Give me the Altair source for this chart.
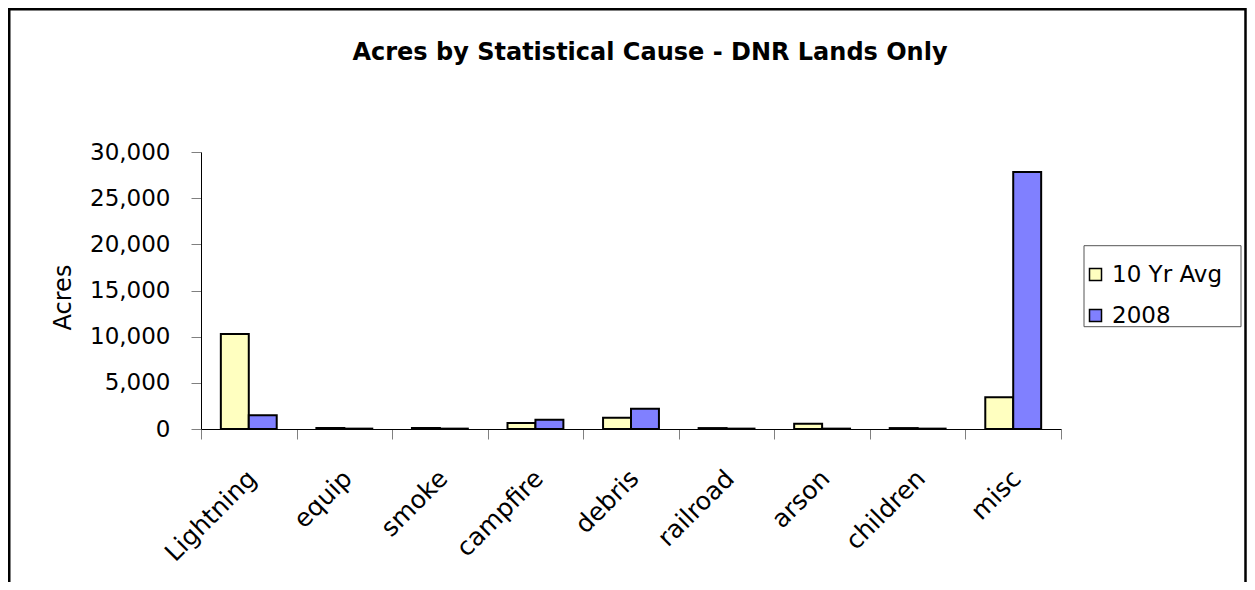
import altair as alt
import pandas as pd

categories = ["Lightning", "equip", "smoke", "campfire", "debris", "railroad", "arson", "children", "misc"]
avg_10yr = [10300, 120, 110, 650, 1220, 100, 575, 100, 3430]
acres_2008 = [1500, 40, 40, 1000, 2200, 40, 40, 40, 27830]
series_names = ["10 Yr Avg", "2008"]
series_colors = ["#FFFFC0", "#8080FF"]
y_ticks = [0, 5000, 10000, 15000, 20000, 25000, 30000]
title_text = "Acres by Statistical Cause - DNR Lands Only"

FONT = "Comic Sans MS, DejaVu Sans"

rows = []
for c, a, b in zip(categories, avg_10yr, acres_2008):
    rows.append({"cause": c, "series": series_names[0], "acres": a})
    rows.append({"cause": c, "series": series_names[1], "acres": b})
df = pd.DataFrame(rows)

W, H = 860, 277

bars = alt.Chart(df).mark_bar(stroke="black", strokeWidth=2).encode(
    x=alt.X("cause:N", sort=categories, title=None,
            scale=alt.Scale(paddingInner=0, paddingOuter=0),
            axis=alt.Axis(labelAngle=-45, labelAlign="right", labelBaseline="middle",
                          labelFont=FONT, labelFontSize=25, labelColor="black",
                          labelPadding=35, labelOffset=3,
                          tickBand="extent", tickSize=10, tickColor="#808080",
                          domainColor="black", domainWidth=1)),
    xOffset=alt.XOffset("series:N", sort=series_names,
                        scale=alt.Scale(paddingInner=0, paddingOuter=0.71)),
    y=alt.Y("acres:Q", title="Acres",
            scale=alt.Scale(domain=[0, 30000], nice=False),
            axis=alt.Axis(values=y_ticks, format=",.0f", grid=False,
                          labelFont=FONT, labelFontSize=23, labelColor="black",
                          labelPadding=21, tickSize=10, tickColor="#808080",
                          domainColor="black", domainWidth=1,
                          titleFont=FONT, titleFontSize=24, titleFontWeight="normal",
                          titleColor="black", titleX=-138, titleY=145,
                          titleAngle=270, titleAlign="center", titleBaseline="middle")),
    fill=alt.Fill("series:N", sort=series_names,
                  scale=alt.Scale(domain=series_names, range=series_colors),
                  legend=alt.Legend(title=None, orient="none", legendX=883, legendY=111,
                                    symbolType="square", symbolSize=144,
                                    symbolStrokeColor="black", symbolStrokeWidth=1.5,
                                    labelFont=FONT, labelFontSize=23, labelColor="black",
                                    labelOffset=5, rowPadding=17, padding=0)),
)

title = alt.Chart(pd.DataFrame({"t": [title_text]})).mark_text(
    font=FONT, fontSize=24, fontWeight="bold", color="black",
    align="center", baseline="middle"
).encode(text="t:N", x=alt.value(449), y=alt.value(-99))

border = alt.Chart(pd.DataFrame({"a": [0]})).mark_rect(
    fillOpacity=0, stroke="black", strokeWidth=2.5
).encode(x=alt.value(-191.75), x2=alt.value(1044.5), y=alt.value(-142.75), y2=alt.value(460))

legend_box = alt.Chart(pd.DataFrame({"a": [0]})).mark_rect(
    fillOpacity=0, stroke="#555555", strokeWidth=1
).encode(x=alt.value(883), x2=alt.value(1040), y=alt.value(93.7), y2=alt.value(174.7))

chart = alt.layer(border, legend_box, bars, title).properties(
    width=W, height=H,
    autosize=alt.AutoSizeParams(type="none"),
    padding={"left": 193, "top": 144, "right": 186, "bottom": 153},
    background="white",
).configure_view(stroke=None)

chart.save("out.html", embed_options={"renderer": "svg", "actions": False})
